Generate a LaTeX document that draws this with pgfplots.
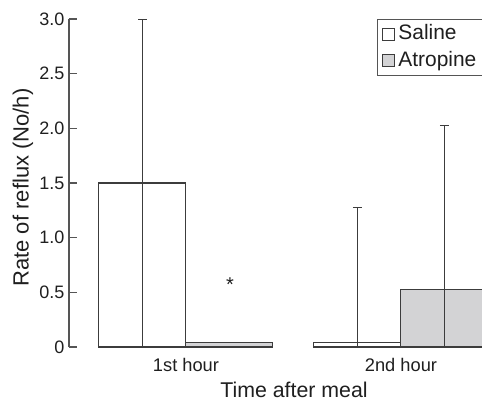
\documentclass[border=0pt]{standalone}
\usepackage{pgfplots}
\pgfplotsset{compat=1.18}
\usepackage{fontspec}
\setmainfont{Liberation Sans}
\definecolor{barline}{RGB}{60,60,60}
\definecolor{axgray}{RGB}{85,85,85}
\definecolor{atrfill}{RGB}{211,211,213}
\begin{document}
\begin{tikzpicture}
\begin{axis}[
  name=ax,
  scale only axis,
  width=329.6pt, height=246pt,
  xmin=-0.544, xmax=1.5,
  ymin=0, ymax=3,
  ybar=0pt, bar width=65.25pt,
  axis y line*=left,
  axis x line*=bottom,
  x axis line style={draw=none},
  y axis line style={-, draw=axgray, line width=0.8pt},
  xtick={0,1}, xticklabels={1st hour,2nd hour},
  major x tick style={draw=none},
  ytick={0,0.5,1,1.5,2,2.5,3},
  yticklabels={0,0.5,1.0,1.5,2.0,2.5,3.0},
  tick align=inside,
  major tick length=6pt,
  major y tick style={draw=axgray, line width=0.8pt},
  y tick label style={font=\fontsize{13.5}{16}\selectfont, text=black!88},
  x tick label style={font=\fontsize{13.7}{16}\selectfont, text=black!88, yshift=-5.25pt},
  xlabel={Time after meal},
  ylabel={Rate of reflux (No/h)},
  xlabel style={font=\fontsize{16}{19}\selectfont, text=black!88, at={(axis description cs:0.512,0)}, anchor=base, yshift=-37.5pt},
  ylabel style={font=\fontsize{16.5}{19}\selectfont, text=black!88, at={(axis description cs:0,0.5)}, anchor=center, rotate=0, yshift=34.5pt, xshift=-3.4pt},
  legend style={at={(rel axis cs:0.701,1)}, anchor=north west, draw=axgray, line width=0.8pt,
    font=\fontsize{15.7}{18}\selectfont, inner xsep=3.5pt, inner ysep=1pt, text=black!88,
    nodes={text height=11.5pt, text depth=3.5pt, inner ysep=2.5pt, inner xsep=2.5pt}},
  legend cell align=left,
  legend image code/.code={\draw[#1, line width=0.6pt] (0pt,-4.5pt) rectangle (9pt,4.5pt);},
  error bars/error bar style={line width=0.8pt, color=barline},
  error bars/error mark options={rotate=90, mark size=3.5pt, line width=0.8pt, color=barline},
]
\addplot[draw=barline, fill=white, line width=0.8pt,
  error bars/.cd, y dir=both, y explicit]
  coordinates {(0,1.5) +- (0,1.5) (1,0.04) += (0,1.24) -= (0,0.04)};
\addplot[draw=barline, fill=atrfill, line width=0.8pt,
  error bars/.cd, y dir=both, y explicit]
  coordinates {(0,0.04) +- (0,0) (1,0.53) += (0,1.5) -= (0,0.53)};
\legend{Saline,Atropine\rule{8pt}{0pt}}
\node[anchor=north, inner sep=0pt, font=\fontsize{15}{18}\selectfont, text=black!88] at (axis cs:0.2047,0.636) {*};
\end{axis}
\pgfresetboundingbox
\useasboundingbox ([shift={(-51.75pt,-39.75pt)}]ax.south west) rectangle ([shift={(309.75pt,260.25pt)}]ax.south west);
\end{tikzpicture}
\end{document}
